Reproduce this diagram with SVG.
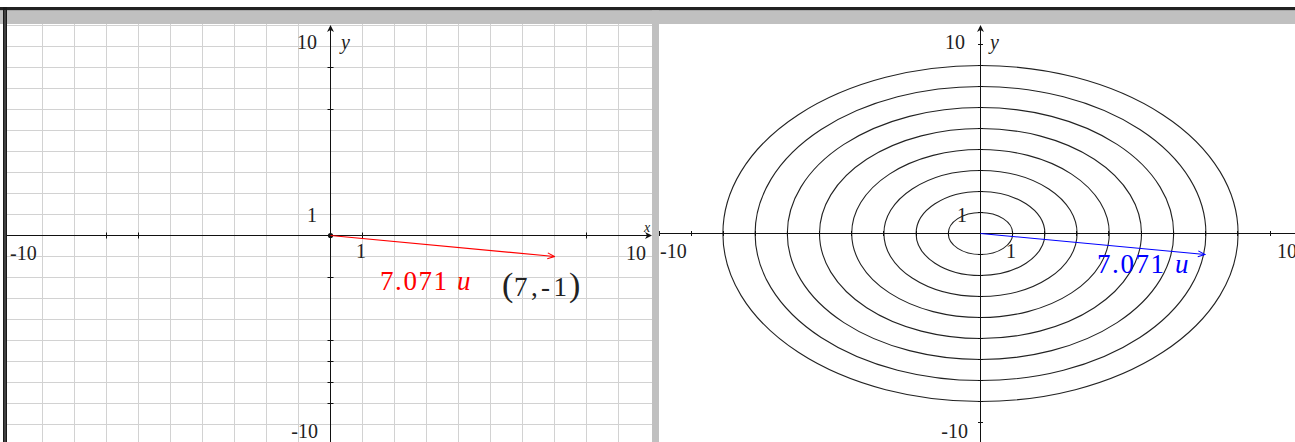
<svg xmlns="http://www.w3.org/2000/svg" width="1295" height="442" viewBox="0 0 1295 442">
<defs>
<style>
.grid{stroke:#d2d2d2;stroke-width:1;fill:none}
.axis{stroke:#111;stroke-width:1;fill:none}
.tick{stroke:#111;stroke-width:1}
.ell{stroke:#222;stroke-width:1.1;fill:none}
.lbl{font-family:"Liberation Serif","Times New Roman",serif;font-size:20px;fill:#222}
.it{font-style:italic}
.big{font-family:"Liberation Serif","Times New Roman",serif;font-size:27px}
</style>
<marker id="ahRed" viewBox="-8 -4 9 8" refX="0" refY="0" markerWidth="9" markerHeight="8" markerUnits="userSpaceOnUse" orient="auto">
<path d="M-7,-3 L0,0 L-7,3" fill="none" stroke="#ff0000" stroke-width="1.1"/>
</marker>
<marker id="ahBlue" viewBox="-8 -4 9 8" refX="0" refY="0" markerWidth="9" markerHeight="8" markerUnits="userSpaceOnUse" orient="auto">
<path d="M-7,-3 L0,0 L-7,3" fill="none" stroke="#0000ff" stroke-width="1.1"/>
</marker>
<clipPath id="clipL"><rect x="7" y="24" width="645" height="418"/></clipPath>
<clipPath id="clipR"><rect x="659" y="24" width="636" height="418"/></clipPath>
</defs>
<rect x="0" y="0" width="1295" height="442" fill="#ffffff"/>

<!-- LEFT PANEL -->
<g id="left-panel" clip-path="url(#clipL)">
<g id="left-grid" class="grid">
<path d="M42.5,24V442M74.5,24V442M106.5,24V442M138.5,24V442M170.5,24V442M202.5,24V442M234.5,24V442M266.5,24V442M298.5,24V442M362.5,24V442M394.5,24V442M426.5,24V442M458.5,24V442M490.5,24V442M522.5,24V442M554.5,24V442M586.5,24V442M618.5,24V442"/>
<path d="M7,25.5H652M7,46.5H652M7,67.5H652M7,88.5H652M7,109.5H652M7,130.5H652M7,151.5H652M7,172.5H652M7,193.5H652M7,214.5H652M7,256.5H652M7,277.5H652M7,298.5H652M7,319.5H652M7,340.5H652M7,361.5H652M7,382.5H652M7,403.5H652M7,424.5H652"/>
</g>
<g id="left-axes">
<path class="axis" d="M7,235.5H650M330.5,27V442"/>
<path d="M330.5,25 l-3.5,7 l3.5,-2 l3.5,2 z" fill="#111"/>
<path d="M652,235.5 l-7,-3.5 l2,3.5 l-2,3.5 z" fill="#111"/>
<path class="tick" d="M106.5,232.5v6M138.5,232.5v6M362.5,232.5v6M586.5,232.5v6M327.5,67.5h6M327.5,109.5h6M327.5,277.5h6M327.5,340.5h6M327.5,361.5h6M327.5,382.5h6M327.5,403.5h6"/>
<circle cx="330.5" cy="235.5" r="2.6" fill="#111"/>
</g>
<g id="left-labels" class="lbl">
<text x="317" y="49" text-anchor="end">10</text>
<text x="341" y="49" class="it">y</text>
<text x="317" y="221.5" text-anchor="end">1</text>
<text x="356" y="258">1</text>
<text x="10" y="259.5">-10</text>
<text x="626" y="260">10</text>
<text x="318" y="438" text-anchor="end">-10</text>
<text x="644" y="232" class="it" style="font-size:14px">x</text>
</g>
</g>

<!-- RIGHT PANEL -->
<g id="right-panel" clip-path="url(#clipR)">
<g id="ellipses" class="ell">
<ellipse cx="980.5" cy="233.5" rx="32.2" ry="21"/>
<ellipse cx="980.5" cy="233.5" rx="64.4" ry="42"/>
<ellipse cx="980.5" cy="233.5" rx="96.6" ry="63"/>
<ellipse cx="980.5" cy="233.5" rx="128.8" ry="84"/>
<ellipse cx="980.5" cy="233.5" rx="161" ry="105"/>
<ellipse cx="980.5" cy="233.5" rx="193.2" ry="126"/>
<ellipse cx="980.5" cy="233.5" rx="225.4" ry="147"/>
<ellipse cx="980.5" cy="233.5" rx="257.6" ry="168"/>
</g>
<g id="right-axes">
<path class="axis" d="M659,233.5H1295M980.5,27V442"/>
<path d="M980.5,25 l-3.5,7 l3.5,-2 l3.5,2 z" fill="#111"/>
<path class="tick" d="M659.5,231v5M691.5,231v5M723.5,231v5M755.5,231v5M787.5,231v5M819.5,231v5M851.5,231v5M883.5,231v5M916.5,231v5M948.5,231v5M1012.5,231v5M1044.5,231v5M1076.5,231v5M1108.5,231v5M1141.5,231v5M1173.5,231v5M1205.5,231v5M1237.5,231v5M1270.5,231v5"/>
<path class="tick" d="M978,44.5h5M978,65.5h5M978,86.5h5M978,107.5h5M978,128.5h5M978,149.5h5M978,170.5h5M978,191.5h5M978,212.5h5M978,254.5h5M978,275.5h5M978,296.5h5M978,317.5h5M978,338.5h5M978,359.5h5M978,380.5h5M978,401.5h5M978,422.5h5"/>
</g>
<g id="right-labels" class="lbl">
<text x="965" y="49" text-anchor="end">10</text>
<text x="990" y="49" class="it">y</text>
<text x="967" y="221.5" text-anchor="end">1</text>
<text x="1006" y="258">1</text>
<text x="660" y="258">-10</text>
<text x="1277" y="257.5">10</text>
<text x="968" y="438" text-anchor="end">-10</text>
</g>
</g>

<!-- VECTORS -->
<g id="connectors">
<line id="vec-left" x1="330.5" y1="235.5" x2="554.5" y2="256.5" stroke="#ff0000" stroke-width="1.1" marker-end="url(#ahRed)"/>
<line id="vec-right" x1="980.5" y1="233.5" x2="1205" y2="254.5" stroke="#0000ff" stroke-width="1.1" marker-end="url(#ahBlue)"/>
</g>

<g id="vec-left-label" class="big" fill="#ff0000">
<text x="380" y="289.5"><tspan textLength="67" lengthAdjust="spacing">7.071</tspan><tspan x="457" class="it">u</tspan></text>
</g>
<g id="point-label" class="big" fill="#222">
<text y="296"><tspan x="502" style="font-size:34px">(</tspan><tspan x="514" textLength="53" lengthAdjust="spacing">7,-1</tspan><tspan x="569" style="font-size:34px">)</tspan></text>
</g>
<g id="vec-right-label" class="big" fill="#0000ff">
<text x="1097" y="273"><tspan textLength="67" lengthAdjust="spacing">7.071</tspan><tspan x="1175" class="it">u</tspan></text>
</g>

<!-- FRAME -->
<g id="frame">
<rect x="0" y="7" width="1295" height="3.5" fill="#222"/>
<rect x="0" y="10.5" width="1295" height="13.5" fill="#c0c0c0"/>
<rect x="3" y="7" width="4" height="435" fill="#1a1a1a"/>
<rect x="4.5" y="10" width="1" height="432" fill="#666"/>
<rect x="652" y="10.5" width="7" height="432" fill="#c0c0c0"/>
</g>
</svg>
